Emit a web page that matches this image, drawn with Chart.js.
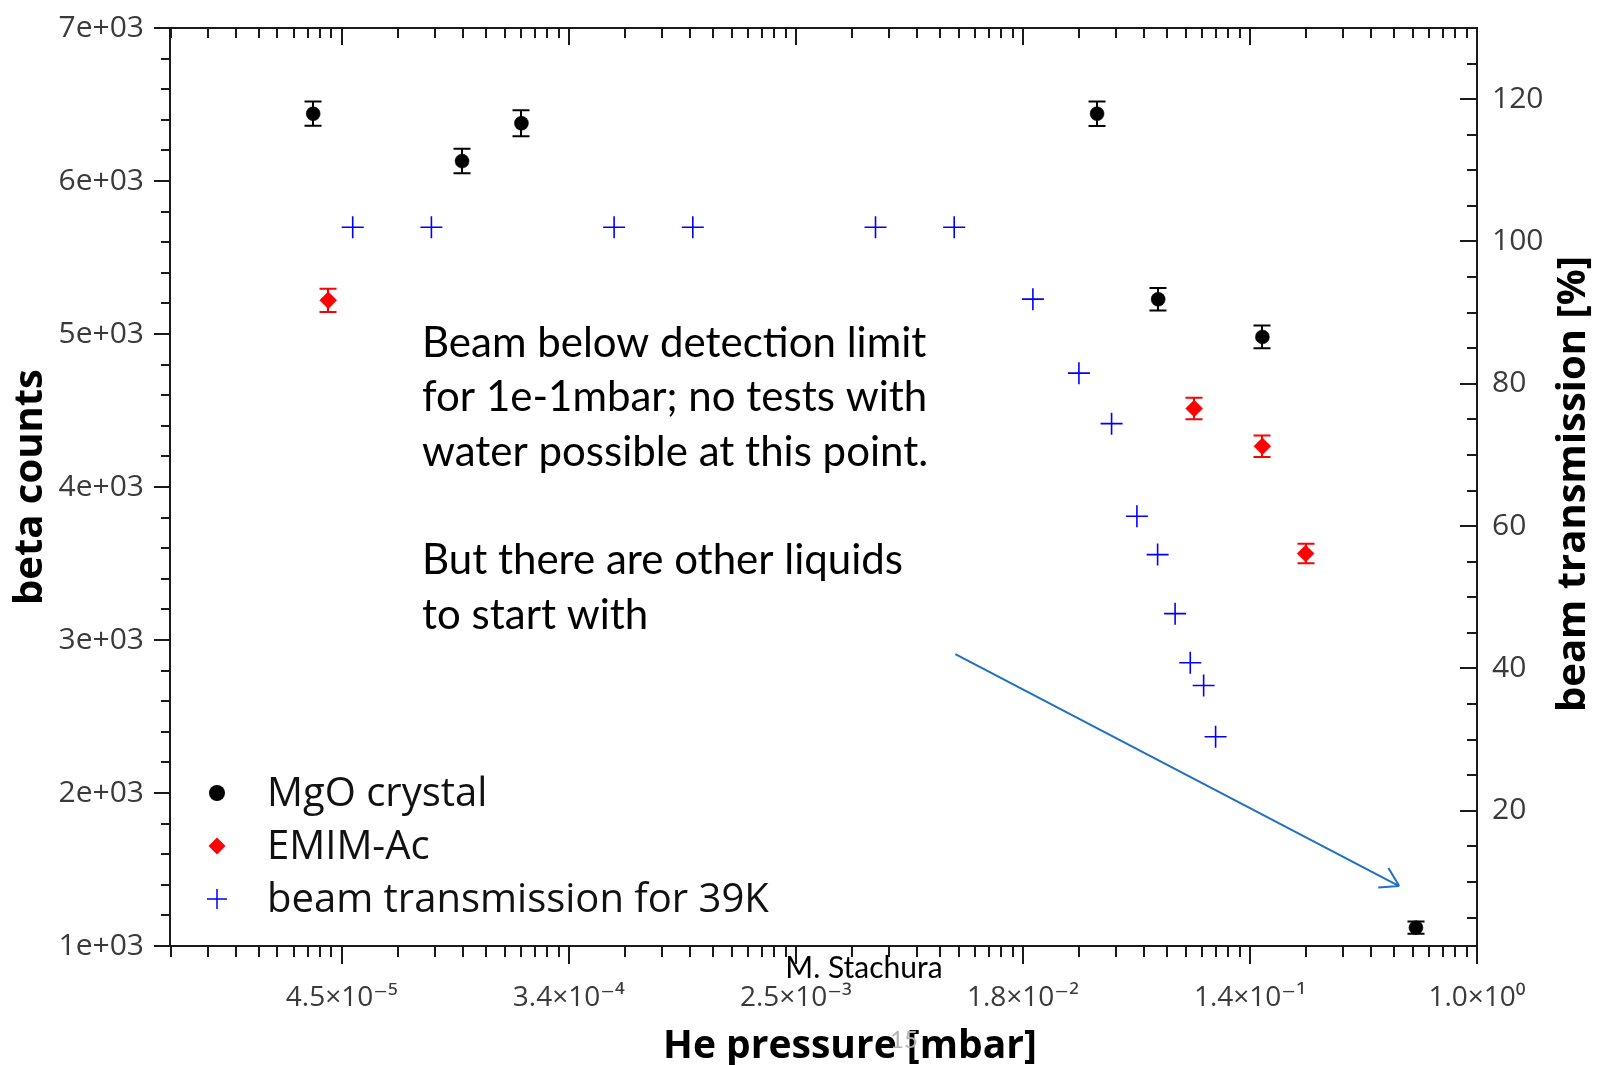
<!DOCTYPE html>
<html>
<head>
<meta charset="utf-8">
<title>beta counts vs He pressure</title>
<script src="https://cdn.jsdelivr.net/npm/chart.js@4.4.1/dist/chart.umd.min.js"></script>
<style>
  html, body { margin: 0; padding: 0; background: #fff; }
  #wrap { width: 1598px; height: 1065px; }
</style>
</head>
<body>
<div id="wrap"><canvas id="chart" width="1598" height="1065"></canvas></div>
<script>
'use strict';

/* ── Data (He pressure in mbar) ─────────────────────────────────── */
const MGO_P    = [3.53e-5, 1.31e-4, 2.21e-4, 3.52e-2, 6.03e-2, 1.51e-1, 5.84e-1];
const MGO_Y    = [6440, 6130, 6377, 6440, 5227, 4981, 1120];
const MGO_ERR  = [79, 80, 85, 80, 74, 74, 40];

const EMIM_P   = [4.03e-5, 8.28e-2, 1.51e-1, 2.21e-1];
const EMIM_Y   = [5220, 4513, 4266, 3565];
const EMIM_ERR = [76, 71, 70, 64];

const BEAM_P   = [5e-5, 1e-4, 5e-4, 1e-3, 5e-3, 1e-2, 2e-2, 3e-2, 4e-2, 5e-2, 6e-2, 7e-2, 8e-2, 9e-2, 1e-1];
const BEAM_T   = [102, 102, 102, 102, 102, 102, 91.9, 81.5, 74.4, 61.4, 56.0, 47.7, 40.8, 37.6, 30.4];

/* ── Axes ───────────────────────────────────────────────────────── */
const X_MIN = 1e-5, X_MAX = 1.0;
const X_TICKS       = [4.540e-5, 3.355e-4, 2.479e-3, 1.832e-2, 1.353e-1, 1.0];
const X_TICK_LABELS = ['4.5×10⁻⁵', '3.4×10⁻⁴', '2.5×10⁻³', '1.8×10⁻²', '1.4×10⁻¹', '1.0×10⁰'];
const Y_TICKS       = [1000, 2000, 3000, 4000, 5000, 6000, 7000];
const Y_TICK_LABELS = ['1e+03', '2e+03', '3e+03', '4e+03', '5e+03', '6e+03', '7e+03'];
const Y2_MIN = 1, Y2_MAX = 130;
const Y2_TICKS      = [20, 40, 60, 80, 100, 120];

/* ── Slide annotations ──────────────────────────────────────────── */
const NOTE_LINES = [
  'Beam below detection limit',
  'for 1e-1mbar; no tests with',
  'water possible at this point.',
  '',
  'But there are other liquids',
  'to start with',
];
const ARROW_FROM = [1.01e-2, 2907];
const ARROW_TO   = [0.504, 1392];

const W = 1598, H = 1065;
const AREA = { left: 170, right: 1477, top: 28, bottom: 946 };
const SANS = "'Open Sans', 'DejaVu Sans', sans-serif";
const X_TICK_FONT = { family: SANS, size: 28 };
const Y_TICK_FONT = { family: SANS, size: 30 };
const TICK_COLOR = '#3a3a3a';

const toPoints = (xs, ys) => xs.map((x, i) => ({ x, y: ys[i] }));

/* ── Error bars ─────────────────────────────────────────────────── */
const errorBarPlugin = {
  id: 'errorBars',
  beforeDatasetsDraw(chart) {
    const { ctx } = chart;
    chart.data.datasets.forEach((ds, i) => {
      if (!ds.errors) return;
      const meta = chart.getDatasetMeta(i);
      const xs = chart.scales[meta.xAxisID];
      const ys = chart.scales[meta.yAxisID];
      ctx.save();
      ctx.strokeStyle = ds.backgroundColor;
      ctx.lineWidth = 2;
      ds.data.forEach((pt, j) => {
        const px = Math.round(xs.getPixelForValue(pt.x));
        const top = ys.getPixelForValue(pt.y + ds.errors[j]);
        const bot = ys.getPixelForValue(pt.y - ds.errors[j]);
        ctx.beginPath();
        ctx.moveTo(px, top); ctx.lineTo(px, bot);
        ctx.moveTo(px - 8.5, top); ctx.lineTo(px + 8.5, top);
        ctx.moveTo(px - 8.5, bot); ctx.lineTo(px + 8.5, bot);
        ctx.stroke();
      });
      ctx.restore();
    });
  },
};

/* ── Frame + Origin-style ticks ─────────────────────────────────── */
function xMinorTicks(scale) {
  const r = X_TICKS[1] / X_TICKS[0];
  const bases = [X_TICKS[0] / r, ...X_TICKS];
  const out = [];
  for (const b of bases) {
    for (let k = 1; k <= 9; k++) {
      const v = b * (1 + k * (r - 1) / 10);
      if (v >= scale.min && v <= scale.max) out.push(v);
    }
  }
  return out;
}

const framePlugin = {
  id: 'frame',
  afterDraw(chart) {
    const { ctx, chartArea: a, scales: { x, y, y2 } } = chart;
    ctx.save();
    ctx.strokeStyle = '#1a1a1a';
    ctx.lineWidth = 2;
    const seg = (x1, y1, x2, y2_) => { ctx.beginPath(); ctx.moveTo(x1, y1); ctx.lineTo(x2, y2_); ctx.stroke(); };

    // bottom (outward) and top (inward)
    for (const v of X_TICKS) {
      const px = Math.round(x.getPixelForValue(v));
      seg(px, a.bottom, px, a.bottom + 18);
      seg(px, a.top, px, a.top + 17);
    }
    for (const v of xMinorTicks(x)) {
      const px = Math.round(x.getPixelForValue(v));
      seg(px, a.bottom, px, a.bottom + 11);
      seg(px, a.top, px, a.top + 10);
    }
    // left axis (outward)
    for (let v = y.min; v <= y.max; v += 200) {
      const py = Math.round(y.getPixelForValue(v));
      seg(a.left, py, a.left - (v % 1000 === 0 ? 16 : 9), py);
    }
    // right axis (inward)
    for (let v = 5; v <= y2.max; v += 5) {
      const py = Math.round(y2.getPixelForValue(v));
      seg(a.right, py, a.right - (v % 20 === 0 ? 17 : 10), py);
    }
    ctx.strokeRect(a.left, a.top, a.right - a.left, a.bottom - a.top);
    ctx.restore();
  },
};

/* ── In-plot legend ─────────────────────────────────────────────── */
const legendPlugin = {
  id: 'plotLegend',
  afterDraw(chart) {
    const { ctx } = chart;
    const sx = 217, tx = 267, y0 = 793, dy = 53;
    ctx.save();
    ctx.font = `40px ${SANS}`;
    ctx.textBaseline = 'middle';
    chart.data.datasets.forEach((ds, i) => {
      const cy = y0 + i * dy;
      ctx.fillStyle = ds.backgroundColor;
      ctx.strokeStyle = ds.borderColor;
      if (ds.pointStyle === 'circle') {
        ctx.beginPath(); ctx.arc(sx, cy, 8, 0, Math.PI * 2); ctx.fill();
      } else if (ds.pointStyle === 'rectRot') {
        ctx.beginPath();
        ctx.moveTo(sx - 8.5, cy); ctx.lineTo(sx, cy - 8.5);
        ctx.lineTo(sx + 8.5, cy); ctx.lineTo(sx, cy + 8.5);
        ctx.closePath(); ctx.fill();
      } else {
        ctx.lineWidth = 1.5;
        ctx.beginPath();
        ctx.moveTo(sx - 10, cy); ctx.lineTo(sx + 10, cy);
        ctx.moveTo(sx, cy - 10); ctx.lineTo(sx, cy + 10);
        ctx.stroke();
      }
      ctx.fillStyle = '#111';
      ctx.fillText(ds.label, tx, cy + 2);
    });
    ctx.restore();
  },
};

/* ── Titles, note, arrow, footer ────────────────────────────────── */
const notesPlugin = {
  id: 'notes',
  afterDraw(chart) {
    const { ctx, scales: { x, y } } = chart;
    ctx.save();

    // axis titles that Chart.js cannot place/rotate this way
    ctx.fillStyle = '#000';
    ctx.textAlign = 'center';
    ctx.textBaseline = 'middle';
    ctx.font = `bold 39px ${SANS}`;
    ctx.fillText('He pressure [mbar]', 850, 1047);
    ctx.save();
    ctx.font = `bold 40px ${SANS}`;
    ctx.translate(1574, 484);
    ctx.rotate(-Math.PI / 2);
    ctx.fillText('beam transmission [%]', 0, 0);
    ctx.restore();

    // slide note
    ctx.textAlign = 'left';
    ctx.textBaseline = 'alphabetic';
    ctx.font = "42px Lato, 'Open Sans', sans-serif";
    NOTE_LINES.forEach((line, i) => ctx.fillText(line, 422, 357 + i * 54.3));

    // arrow
    const x1 = x.getPixelForValue(ARROW_FROM[0]), y1 = y.getPixelForValue(ARROW_FROM[1]);
    const x2 = x.getPixelForValue(ARROW_TO[0]),   y2 = y.getPixelForValue(ARROW_TO[1]);
    const ang = Math.atan2(y2 - y1, x2 - x1);
    ctx.strokeStyle = '#1f6fc4';
    ctx.lineWidth = 2;
    ctx.beginPath();
    ctx.moveTo(x1, y1); ctx.lineTo(x2, y2);
    for (const d of [-0.55, 0.55]) {
      ctx.moveTo(x2, y2);
      ctx.lineTo(x2 - 21 * Math.cos(ang + d), y2 - 21 * Math.sin(ang + d));
    }
    ctx.stroke();

    // footer
    ctx.textAlign = 'center';
    ctx.textBaseline = 'middle';
    ctx.fillStyle = '#000';
    ctx.font = "30px Lato, 'Open Sans', sans-serif";
    ctx.fillText('M. Stachura', 864, 968);
    ctx.fillStyle = '#b4b4b4';
    ctx.font = "24px Lato, 'Open Sans', sans-serif";
    ctx.fillText('15', 904, 1040);
    ctx.restore();
  },
};

/* ── Chart ──────────────────────────────────────────────────────── */
new Chart(document.getElementById('chart'), {
  type: 'scatter',
  data: {
    datasets: [
      {
        label: 'MgO crystal',
        data: toPoints(MGO_P, MGO_Y),
        errors: MGO_ERR,
        pointStyle: 'circle',
        pointRadius: 7,
        backgroundColor: '#000000',
        borderColor: '#000000',
        borderWidth: 0.5,
        yAxisID: 'y',
      },
      {
        label: 'EMIM-Ac',
        data: toPoints(EMIM_P, EMIM_Y),
        errors: EMIM_ERR,
        pointStyle: 'rectRot',
        pointRadius: 8.5,
        backgroundColor: '#ff0000',
        borderColor: '#ff0000',
        borderWidth: 0.5,
        yAxisID: 'y',
      },
      {
        label: 'beam transmission for 39K',
        data: toPoints(BEAM_P, BEAM_T),
        pointStyle: 'cross',
        pointRadius: 11,
        backgroundColor: '#0000ff',
        borderColor: '#0000ff',
        borderWidth: 1.6,
        yAxisID: 'y2',
      },
    ],
  },
  options: {
    responsive: false,
    animation: false,
    events: [],
    layout: { padding: { top: AREA.top, left: 0, right: 0, bottom: 0 } },
    plugins: { legend: { display: false }, tooltip: { enabled: false } },
    scales: {
      x: {
        type: 'logarithmic',
        position: 'bottom',
        min: X_MIN,
        max: X_MAX,
        afterBuildTicks: s => { s.ticks = X_TICKS.map(v => ({ value: v })); },
        afterFit: s => { s.height = H - AREA.bottom; },
        grid: { display: false, drawTicks: true, tickLength: 35 },
        border: { display: false },
        ticks: {
          autoSkip: false,
          maxRotation: 0,
          padding: 0,
          font: X_TICK_FONT,
          color: TICK_COLOR,
          callback: (v, i) => X_TICK_LABELS[i],
        },
      },
      y: {
        type: 'linear',
        position: 'left',
        min: Y_TICKS[0],
        max: Y_TICKS[Y_TICKS.length - 1],
        afterBuildTicks: s => { s.ticks = Y_TICKS.map(v => ({ value: v })); },
        afterFit: s => { s.width = AREA.left; },
        grid: { display: false, drawTicks: true, tickLength: 26 },
        border: { display: false },
        ticks: {
          padding: 0,
          font: Y_TICK_FONT,
          color: TICK_COLOR,
          callback: (v, i) => Y_TICK_LABELS[i],
        },
        title: {
          display: true,
          text: 'beta counts',
          color: '#000',
          font: { family: SANS, size: 40, weight: 'bold' },
          padding: { top: 7, bottom: 0 },
        },
      },
      y2: {
        type: 'linear',
        position: 'right',
        min: Y2_MIN,
        max: Y2_MAX,
        afterBuildTicks: s => { s.ticks = Y2_TICKS.map(v => ({ value: v })); },
        afterFit: s => { s.width = W - AREA.right; },
        grid: { display: false, drawTicks: true, tickLength: 15 },
        border: { display: false },
        ticks: {
          padding: 0,
          font: Y_TICK_FONT,
          color: TICK_COLOR,
        },
      },
    },
  },
  plugins: [errorBarPlugin, framePlugin, legendPlugin, notesPlugin],
});
</script>
</body>
</html>
